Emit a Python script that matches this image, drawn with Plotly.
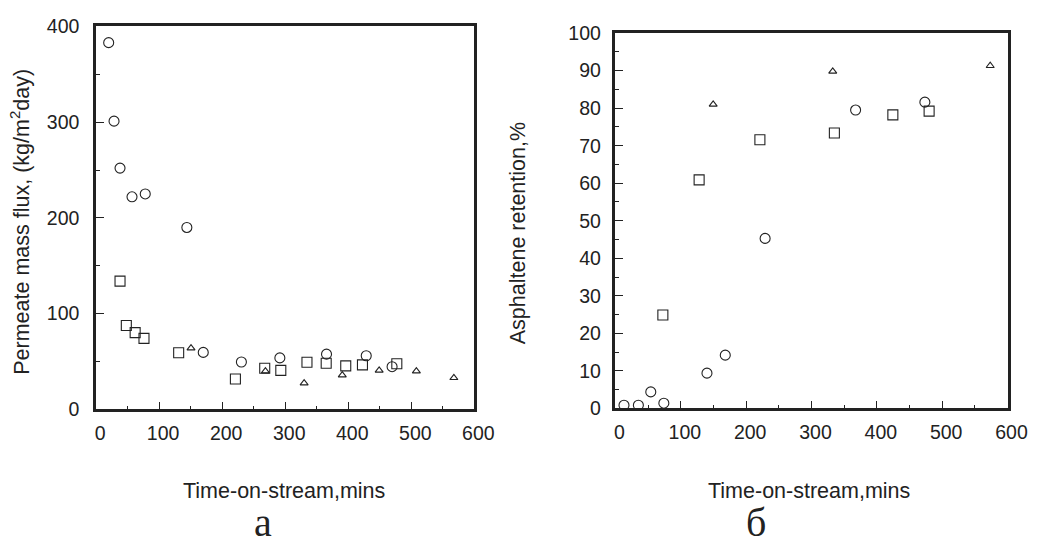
import plotly.graph_objects as go

# ---- Panel a: permeate mass flux, kg/(m2 day) vs time-on-stream, mins ----
a_circle_x = [20, 28.5, 38, 57, 78, 144, 170, 230.5, 291.5, 365.5, 428.5, 469.5]
a_circle_y = [383, 301, 252, 222, 225, 190, 59.5, 49.5, 53.8, 57.7, 56, 44.6]
a_square_x = [38, 48, 62, 76, 131, 221, 267.5, 293, 334.5, 365, 396, 422.5, 477]
a_square_y = [134, 87.6, 80.2, 74.2, 59.2, 31.8, 43, 40.8, 49.2, 48.2, 45.4, 46.5, 47.6]
a_tri_x = [150.6, 268.6, 330, 390.5, 449, 508, 567.5]
a_tri_y = [64, 40, 27.4, 35.8, 40.8, 40, 33]

# ---- Panel б: asphaltene retention, % vs time-on-stream, mins ----
b_circle_x = [13, 35, 54, 74, 140, 168, 229, 367.5, 473.5]
b_circle_y = [0.85, 0.85, 4.4, 1.4, 9.4, 14.2, 45.3, 79.5, 81.6]
b_square_x = [72.5, 128, 221, 335, 424.5, 480]
b_square_y = [24.9, 60.9, 71.6, 73.4, 78.2, 79.2]
b_tri_x = [149.5, 332.5, 573.5]
b_tri_y = [81, 89.8, 91.3]

x_title = "Time-on-stream,mins"
y_title_a = "Permeate mass flux, (kg/m<sup>2</sup>day)"
y_title_b = "Asphaltene retention,%"
panel_labels = ["а", "б"]

W, H = 1053, 550
line_col = "#222222"

def mk(x, y, symbol, size, xa, ya):
    return go.Scatter(
        x=x, y=y, mode="markers", xaxis=xa, yaxis=ya, showlegend=False,
        hoverinfo="skip",
        marker=dict(symbol=symbol, size=size, color=line_col,
                    line=dict(color=line_col, width=1.1)),
        cliponaxis=False,
    )

fig = go.Figure()
fig.add_trace(mk(a_circle_x, a_circle_y, "circle-open", 10, "x", "y"))
fig.add_trace(mk(a_square_x, a_square_y, "square-open", 10, "x", "y"))
fig.add_trace(mk(a_tri_x, a_tri_y, "triangle-up-open", 7, "x", "y"))
fig.add_trace(mk(b_circle_x, b_circle_y, "circle-open", 10, "x2", "y2"))
fig.add_trace(mk(b_square_x, b_square_y, "square-open", 10, "x2", "y2"))
fig.add_trace(mk(b_tri_x, b_tri_y, "triangle-up-open", 7, "x2", "y2"))

tickfont = dict(family="Liberation Sans, Arial, sans-serif", size=19.5, color="#222222")

def xaxis(domain, anchor):
    return dict(domain=domain, anchor=anchor, range=[0, 600], tick0=0, dtick=100,
                ticks="inside", ticklen=8, tickwidth=1.2, tickcolor=line_col,
                minor=dict(ticks="inside", ticklen=4, dtick=50, tickwidth=1, tickcolor=line_col),
                showline=True, linewidth=2.5, linecolor=line_col, mirror=True,
                showgrid=False, zeroline=False, tickfont=tickfont,
                ticklabelstandoff=4, ticklabelshift=4)

def yaxis(domain, anchor, rng, dt, mdt, standoff):
    return dict(domain=domain, anchor=anchor, range=rng, tick0=0, dtick=dt,
                ticks="inside", ticklen=8, tickwidth=1.2, tickcolor=line_col,
                minor=dict(ticks="inside", ticklen=4, dtick=mdt, tickwidth=1, tickcolor=line_col),
                showline=True, linewidth=2.5, linecolor=line_col, mirror=True,
                showgrid=False, zeroline=False, tickfont=tickfont,
                ticklabelstandoff=standoff)

def px(v):
    return v / W

def py(v):
    return 1 - v / H

fig.update_layout(
    width=W, height=H, margin=dict(l=0, r=0, t=0, b=0),
    paper_bgcolor="white", plot_bgcolor="white",
    xaxis=xaxis([px(97), px(483)], "y"),
    yaxis=yaxis([py(415), py(16)], "x", [0, 400], 100, 50, 10),
    xaxis2=xaxis([px(627), px(1027)], "y2"),
    yaxis2=yaxis([py(414), py(23)], "x2", [0, 100], 10, 5, 8),
)

title_font = dict(family="Liberation Sans, Arial, sans-serif", size=21.5, color="#222222")
serif = dict(family="Liberation Serif, Times New Roman, serif", size=40, color="#222222")

anns = [
    dict(text=x_title, x=px(289), y=py(500), font=title_font),
    dict(text=x_title, x=px(824), y=py(500), font=title_font),
    dict(text=y_title_a, x=px(20), y=py(220), font=title_font, textangle=-90),
    dict(text=y_title_b, x=px(527), y=py(231), font=title_font, textangle=-90),
    dict(text=panel_labels[0], x=px(267), y=py(533), font=serif),
    dict(text=panel_labels[1], x=px(770), y=py(533), font=serif),
]
for a in anns:
    a.update(xref="paper", yref="paper", showarrow=False, xanchor="center", yanchor="middle")
    fig.add_annotation(**a)

fig.write_html(
    "out.html",
    config={"displayModeBar": False},
    post_script="document.body.style.margin='0';document.body.style.overflow='hidden';",
)
